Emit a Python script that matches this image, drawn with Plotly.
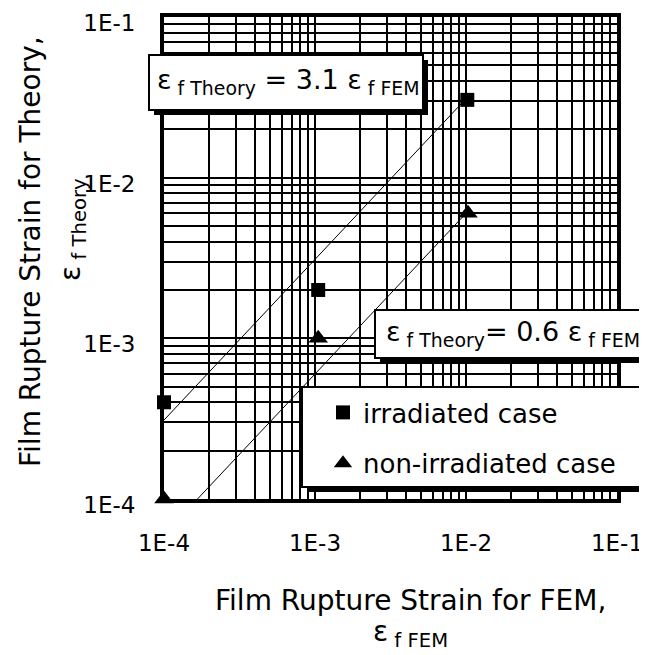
import plotly.graph_objects as go

# ---- data ----
fem_irr = [1.0e-4, 1.05e-3, 1.02e-2]
theory_irr = [4.0e-4, 2.0e-3, 3.05e-2]
fem_non = [1.0e-4, 1.05e-3, 1.03e-2]
theory_non = [1.0e-4, 1.0e-3, 6.0e-3]

fit_hi_x = [1.0e-4, 1.02e-2]
fit_hi_k = 3.1
fit_lo_x = [1.0e-4 / 0.6, 1.03e-2]
fit_lo_k = 0.6

tick_vals = [1e-4, 1e-3, 1e-2, 1e-1]
tick_text = ["1E-4", "1E-3", "1E-2", "1E-1"]

FONT = "DejaVu Sans"

fig = go.Figure()

fig.add_trace(go.Scatter(x=fit_hi_x, y=[fit_hi_k * v for v in fit_hi_x], mode="lines",
                         line=dict(color="black", width=1), showlegend=False, hoverinfo="skip"))
fig.add_trace(go.Scatter(x=fit_lo_x, y=[fit_lo_k * v for v in fit_lo_x], mode="lines",
                         line=dict(color="black", width=1), showlegend=False, hoverinfo="skip"))

fig.add_trace(go.Scatter(x=fem_irr, y=theory_irr, mode="markers", name="irradiated case",
                         marker=dict(symbol="square", size=14, color="black"),
                         cliponaxis=False, legendgroup="a"))
fig.add_trace(go.Scatter(x=fem_non, y=theory_non, mode="markers", name="non-irradiated case",
                         marker=dict(symbol="triangle-up", size=17, color="black"),
                         cliponaxis=False, legendgroup="b"))

# page body has an 8px margin: work in screen pixels, convert to figure coords
OFF = 8
W, H = 647 - OFF, 655 - OFF
PL, PR, PT, PB = 164, 617, 17, 499          # plot area in screen pixels
L, R, T, B = PL - OFF, W - (PR - OFF), PT - OFF, H - (PB - OFF)
pw, ph = W - L - R, H - T - B


def px(x):
    return (x - OFF - L) / pw


def py(y):
    return (H - B - (y - OFF)) / ph


shapes = []


def box(x0, y0, x1, y1, sh=5):
    shapes.append(dict(type="rect", xref="paper", yref="paper", layer="above",
                       x0=px(x0 + sh), x1=px(x1 + sh), y0=py(y1 + sh), y1=py(y0 + sh),
                       fillcolor="black", line=dict(width=0)))
    shapes.append(dict(type="rect", xref="paper", yref="paper", layer="above",
                       x0=px(x0), x1=px(x1), y0=py(y1), y1=py(y0),
                       fillcolor="white", line=dict(color="black", width=2)))


box(149, 55, 423, 110)
box(375, 310, 641, 358)
box(302, 387, 641, 487)

axis_common = dict(type="log", showline=True, linecolor="black", linewidth=4, mirror=True,
                   showgrid=True, gridcolor="black", gridwidth=1.5, automargin=False,
                   tickvals=tick_vals, ticktext=tick_text, ticks="outside",
                   tickcolor="rgba(0,0,0,0)", zeroline=False, ticklabeloverflow="allow",
                   tickfont=dict(family=FONT, size=23, color="black"),
                   minor=dict(dtick="D1", showgrid=True, gridcolor="black", gridwidth=1.5, ticks=""),
                   range=[-4, -1])

fig.update_xaxes(**axis_common, ticklen=20)
fig.update_yaxes(**axis_common, ticklen=20, ticklabelshift=6)


def label(x, y, text, size, angle=0):
    return dict(xref="paper", yref="paper", x=px(x), y=py(y), showarrow=False,
                xanchor="center", yanchor="middle", textangle=angle, text=text,
                font=dict(family=FONT, size=size, color="black"))


ann = [
    label(288, 82, "ε<sub> f Theory</sub> = 3.1 ε<sub> f FEM</sub>", 27),
    label(513, 333, "ε<sub> f Theory</sub>= 0.6 ε<sub> f FEM</sub>", 27),
    label(410, 600, "Film Rupture Strain for FEM,", 28),
    label(410, 633, "ε<sub> f FEM</sub>", 28),
    label(30, 252, "Film Rupture Strain for Theory,", 28, -90),
    label(72, 230, "ε<sub> f Theory</sub>", 28, -90),
]

fig.update_layout(
    width=W, height=H,
    margin=dict(l=L, r=R, t=T, b=B, autoexpand=False),
    paper_bgcolor="white", plot_bgcolor="white",
    shapes=shapes, annotations=ann,
    legend=dict(x=px(323), y=py(389), xanchor="left", yanchor="top",
                bgcolor="rgba(0,0,0,0)", borderwidth=0,
                font=dict(family=FONT, size=26, color="black"),
                tracegroupgap=14, itemwidth=30),
    showlegend=True,
)

fig.write_html("out.html")
